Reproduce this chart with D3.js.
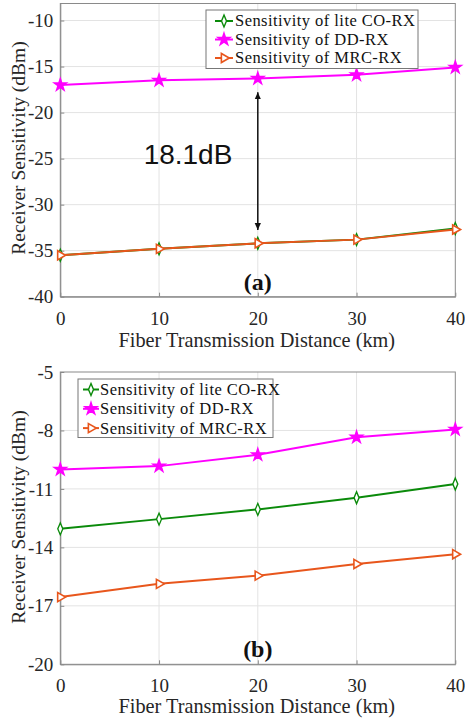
<!DOCTYPE html>
<html><head><meta charset="utf-8">
<script src="https://cdn.jsdelivr.net/npm/d3@7"></script>
<style>
html,body{margin:0;padding:0;background:#fff;}
svg{display:block;}
</style></head>
<body>
<script>
// ---------- DATA ----------
const distances = [0, 10, 20, 30, 40];
const xTicks = [0, 10, 20, 30, 40];
const seriesNames = ["Sensitivity of lite CO-RX", "Sensitivity of DD-RX", "Sensitivity of MRC-RX"];
const seriesColors = ["#0a8a0a", "#ff00ff", "#e8561c"];

// panel (a)
const aCO  = [-35.5, -34.8, -34.2, -33.8, -32.6];
const aDD  = [-17.0, -16.5, -16.3, -15.9, -15.1];
const aMRC = [-35.5, -34.8, -34.2, -33.8, -32.7];
const aYTicks = [-40, -35, -30, -25, -20, -15, -10];
const aYDomain = [-40, -8.15];
const aArrow = [-17.8, -32.75];
const aArrowLabel = "18.1dB";

// panel (b)
const bCO  = [-13.05, -12.55, -12.05, -11.45, -10.75];
const bDD  = [-10.0, -9.83, -9.25, -8.35, -7.95];
const bMRC = [-16.55, -15.87, -15.45, -14.85, -14.35];
const bYTicks = [-20, -17, -14, -11, -8, -5];
const bYDomain = [-20, -5];

const xLabel = "Fiber Transmission Distance (km)";
const yLabel = "Receiver Sensitivity (dBm)";

// ---------- DRAW ----------
const W = 465, H = 719;
const svg = d3.select("body").append("svg").attr("width", W).attr("height", H);
const serif = "Liberation Serif, Times New Roman, serif";
const axisGray = "#8a8a8a";

function markerPath(i) {
  if (i === 0) return d3.symbol().type(d3.symbolDiamond).size(34)();
  if (i === 1) return d3.symbol().type(d3.symbolStar).size(42)();
  return d3.symbol().type(d3.symbolTriangle).size(36)();
}
function markerTransform(i, x, y) {
  if (i === 0) return `translate(${x},${y}) scale(0.8,1.1)`;
  if (i === 2) return `translate(${x},${y}) rotate(90)`;
  return `translate(${x},${y})`;
}
function markerFill(i) { return i === 1 ? seriesColors[1] : "#fff"; }

function drawPanel(opt) {
  const g = svg.append("g");
  const x = d3.scaleLinear().domain([0, 40]).range([opt.left, opt.right]);
  const y = d3.scaleLinear().domain(opt.yDomain).range([opt.bottom, opt.top]);

  // grid
  g.selectAll(".gx").data(xTicks.slice(1, -1)).join("line")
    .attr("x1", d => x(d)).attr("x2", d => x(d))
    .attr("y1", opt.top).attr("y2", opt.bottom)
    .attr("stroke", "#e3e3e3").attr("stroke-width", 1);
  g.selectAll(".gy").data(opt.yTicks.filter(t => t > opt.yDomain[0] && t < opt.yDomain[1])).join("line")
    .attr("x1", opt.left).attr("x2", opt.right)
    .attr("y1", d => y(d)).attr("y2", d => y(d))
    .attr("stroke", "#e3e3e3").attr("stroke-width", 1);

  // axes
  const fmt = d => String(d);
  const xAxis = d3.axisBottom(x).tickValues(xTicks).tickFormat(fmt).tickSizeInner(-4).tickSizeOuter(0).tickPadding(10);
  const yAxis = d3.axisLeft(y).tickValues(opt.yTicks).tickFormat(fmt).tickSizeInner(-4).tickSizeOuter(0).tickPadding(7);
  const ga = g.append("g").attr("transform", `translate(0,${opt.bottom})`).call(xAxis);
  const gy = g.append("g").attr("transform", `translate(${opt.left},0)`).call(yAxis);
  [ga, gy].forEach(a => {
    a.attr("font-family", serif).attr("font-size", 19);
    a.select(".domain").attr("stroke", axisGray);
    a.selectAll(".tick line").attr("stroke", axisGray);
    a.selectAll(".tick text").attr("fill", "#262626");
  });
  ga.selectAll(".tick text").attr("dy", "0.95em");
  // box
  g.append("rect").attr("x", opt.left).attr("y", opt.top)
    .attr("width", opt.right - opt.left).attr("height", opt.bottom - opt.top)
    .attr("fill", "none").attr("stroke", axisGray).attr("stroke-width", 1);

  // series
  const line = d3.line().x((d, i) => x(distances[i])).y(d => y(d));
  opt.series.forEach((vals, i) => {
    g.append("path").datum(vals).attr("d", line)
      .attr("fill", "none").attr("stroke", seriesColors[i]).attr("stroke-width", 2);
    g.selectAll(null).data(vals).join("path")
      .attr("d", markerPath(i))
      .attr("transform", (d, k) => markerTransform(i, x(distances[k]), y(d)))
      .attr("fill", markerFill(i)).attr("stroke", seriesColors[i]).attr("stroke-width", 1.6);
  });

  // legend
  const L = opt.legend;
  g.append("rect").attr("x", L.x).attr("y", L.y).attr("width", L.w).attr("height", L.h)
    .attr("fill", "#fff").attr("stroke", "#777").attr("stroke-width", 1);
  seriesNames.forEach((name, i) => {
    const ry = L.y + L.row0 + i * L.rowGap;
    g.append("line").attr("x1", L.x + L.lx1).attr("x2", L.x + L.lx2)
      .attr("y1", ry).attr("y2", ry).attr("stroke", seriesColors[i]).attr("stroke-width", 2);
    g.append("path").attr("d", markerPath(i))
      .attr("transform", markerTransform(i, L.x + (L.lx1 + L.lx2) / 2, ry))
      .attr("fill", markerFill(i)).attr("stroke", seriesColors[i]).attr("stroke-width", 1.6);
    g.append("text").attr("x", L.x + L.tx).attr("y", ry).attr("dy", "0.33em")
      .attr("font-family", serif).attr("font-size", L.fs).attr("letter-spacing", L.ls)
      .attr("fill", "#111").text(name);
  });

  // axis labels
  g.append("text").attr("x", (opt.left + opt.right) / 2 - 1).attr("y", opt.xLabelY)
    .attr("text-anchor", "middle").attr("font-family", serif).attr("font-size", 20.3)
    .attr("fill", "#262626").text(xLabel);
  g.append("text").attr("transform", `translate(25,${opt.yLabelCY}) rotate(-90)`)
    .attr("text-anchor", "middle").attr("font-family", serif).attr("font-size", 19.5)
    .attr("fill", "#262626").text(yLabel);

  // panel tag
  g.append("text").attr("x", x(20)).attr("y", opt.tagY).attr("text-anchor", "middle")
    .attr("font-family", serif).attr("font-size", 24).attr("font-weight", "bold")
    .attr("fill", "#111").text(opt.tag);

  return { g, x, y };
}

const pa = drawPanel({
  left: 60.3, right: 455.3, top: 3.5, bottom: 296.7,
  yDomain: aYDomain, yTicks: aYTicks,
  series: [aCO, aDD, aMRC],
  legend: { x: 206, y: 10, w: 212, h: 58.5, row0: 11, rowGap: 18.5, lx1: 9, lx2: 27, tx: 29, fs: 16.5, ls: 0.45 },
  xLabelY: 346.5, yLabelCY: 148, tag: "(a)", tagY: 290
});

// arrow annotation in panel (a)
const defs = svg.append("defs");
defs.append("marker").attr("id", "ah").attr("viewBox", "0 0 10 10")
  .attr("refX", 10).attr("refY", 5).attr("markerWidth", 7).attr("markerHeight", 8)
  .attr("markerUnits", "userSpaceOnUse").attr("orient", "auto-start-reverse")
  .append("path").attr("d", "M0,0.5 L10,5 L0,9.5 Z").attr("fill", "#111");
pa.g.append("line")
  .attr("x1", pa.x(20)).attr("x2", pa.x(20))
  .attr("y1", pa.y(aArrow[0])).attr("y2", pa.y(aArrow[1]))
  .attr("stroke", "#111").attr("stroke-width", 1.5)
  .attr("marker-start", "url(#ah)").attr("marker-end", "url(#ah)");
pa.g.append("text").attr("x", 188).attr("y", 164).attr("text-anchor", "middle")
  .attr("font-family", "Liberation Sans, Arial, sans-serif").attr("font-size", 28)
  .attr("fill", "#111").text(aArrowLabel);

drawPanel({
  left: 60.3, right: 455.3, top: 372, bottom: 664.3,
  yDomain: bYDomain, yTicks: bYTicks,
  series: [bCO, bDD, bMRC],
  legend: { x: 78, y: 379, w: 195, h: 58.5, row0: 10.5, rowGap: 19.3, lx1: 5, lx2: 21, tx: 22, fs: 16.5, ls: 0.45 },
  xLabelY: 713, yLabelCY: 517, tag: "(b)", tagY: 657
});
</script>
</body></html>
